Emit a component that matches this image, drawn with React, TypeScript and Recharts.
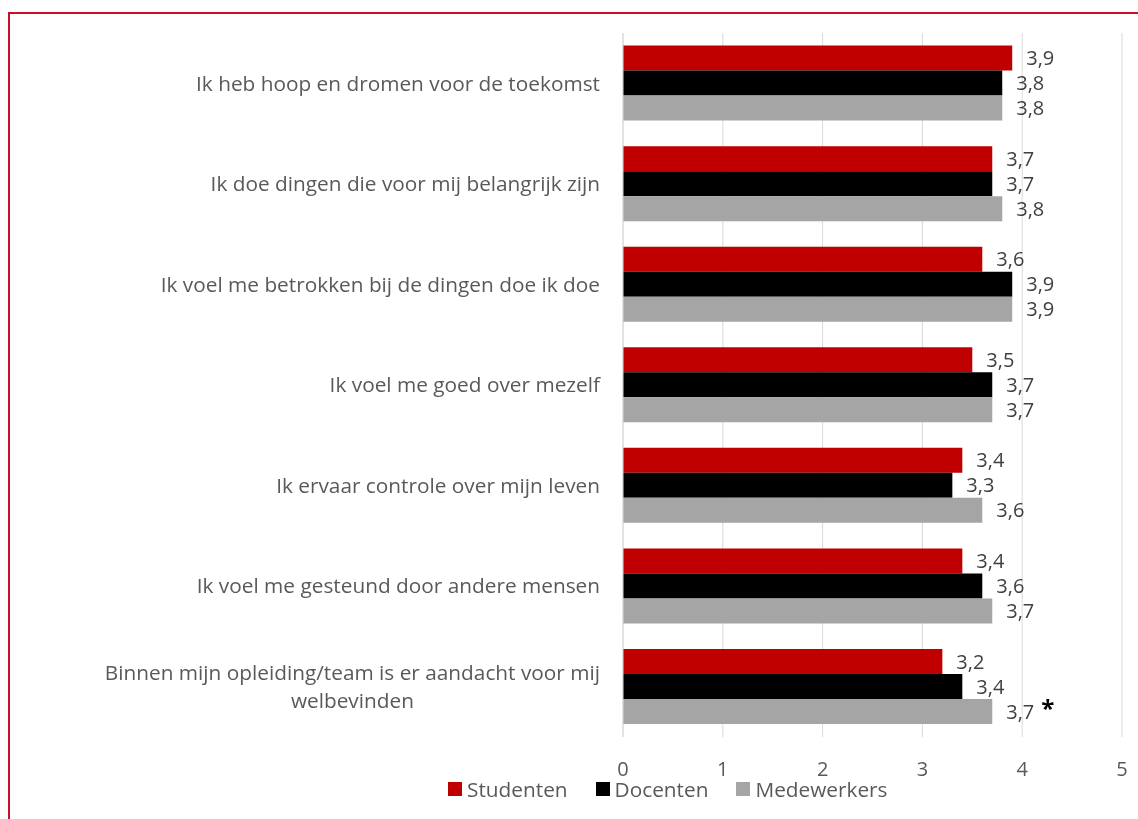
import React from 'react';
import { BarChart, Bar, XAxis, YAxis, CartesianGrid, LabelList, Legend } from 'recharts';

const categories = [
  'Ik heb hoop en dromen voor de toekomst',
  'Ik doe dingen die voor mij belangrijk zijn',
  'Ik voel me betrokken bij de dingen doe ik doe',
  'Ik voel me goed over mezelf',
  'Ik ervaar controle over mijn leven',
  'Ik voel me gesteund door andere mensen',
  'Binnen mijn opleiding/team is er aandacht voor mij\nwelbevinden',
];
const studenten = [3.9, 3.7, 3.6, 3.5, 3.4, 3.4, 3.2];
const docenten = [3.8, 3.7, 3.9, 3.7, 3.3, 3.6, 3.4];
const medewerkers = [3.8, 3.8, 3.9, 3.7, 3.6, 3.7, 3.7];
const medewerkersNotes = ['', '', '', '', '', '', '*'];
const xTicks = [0, 1, 2, 3, 4, 5];
const seriesNames = ['Studenten', 'Docenten', 'Medewerkers'];
const seriesColors = ['#C00000', '#000000', '#A5A5A5'];

const data = categories.map((name, i) => ({
  name,
  s: studenten[i],
  d: docenten[i],
  m: medewerkers[i],
  note: medewerkersNotes[i],
}));

const FONT = '"Open Sans", sans-serif';
const TEXT = '#595959';
const CAT_SIZE = 20.8;
const NUM_SIZE = 20;
const LEGEND_SIZE = 20.8;

let measureCtx: CanvasRenderingContext2D | null = null;
const measure = (t: string, size: number) => {
  if (!measureCtx) measureCtx = document.createElement('canvas').getContext('2d');
  if (!measureCtx) return t.length * size * 0.5;
  measureCtx.font = `${size}px "Open Sans"`;
  return measureCtx.measureText(t).width;
};

const CatTick = (props: any) => {
  const { x, y, payload } = props;
  const lines = String(payload.value).split('\n');
  const lh = 28;
  const widths = lines.map((l) => measure(l, CAT_SIZE));
  const w = Math.max(...widths);
  const cx = x - w / 2;
  const y0 = y - ((lines.length - 1) * lh) / 2;
  return (
    <g>
      {lines.map((l, i) => (
        <text key={i} x={lines.length > 1 ? cx : x} y={y0 + i * lh} dy="0.35em"
          textAnchor={lines.length > 1 ? 'middle' : 'end'} fill={TEXT} fontSize={CAT_SIZE} fontFamily={FONT}>
          {l}
        </text>
      ))}
    </g>
  );
};

const NumTick = (props: any) => {
  const { x, y, payload } = props;
  return (
    <text x={x} y={y + 32} dy="0.35em" textAnchor="middle" fill={TEXT} fontSize={NUM_SIZE} fontFamily={FONT}>
      {payload.value}
    </text>
  );
};

const fmt = (v: number) => v.toFixed(1).replace('.', ',');

const makeLabel = (notes?: string[]) => (props: any) => {
  const { x, y, width, height, value, index } = props;
  const note = notes ? notes[index] : '';
  return (
    <text x={x + width + 14} y={y + height / 2} dy="0.35em" fill="#404040" fontSize={NUM_SIZE} fontFamily={FONT}>
      {fmt(value)}
      {note ? (
        <tspan fill="#000" fontWeight="bold" fontSize={24} dx={7} dy="-0.05em">{note}</tspan>
      ) : null}
    </text>
  );
};

const LegendContent = () => (
  <div style={{ display: 'flex', alignItems: 'center', fontFamily: FONT, fontSize: LEGEND_SIZE, color: TEXT, whiteSpace: 'nowrap', lineHeight: '24px' }}>
    {seriesNames.map((n, i) => (
      <div key={n} style={{ display: 'flex', alignItems: 'center', marginRight: 28 }}>
        <span style={{ display: 'inline-block', width: 14, height: 14, background: seriesColors[i], marginRight: 5 }} />
        <span>{n}</span>
      </div>
    ))}
  </div>
);

export default function App() {
  return (
    <div style={{ position: 'fixed', left: 0, top: 0, width: 1138, height: 819, overflow: 'hidden' }}>
      <div style={{ position: 'absolute', left: 8, top: 12, width: 1150, height: 830, border: '2px solid #C8102E', boxSizing: 'border-box' }} />
      <div style={{ position: 'absolute', left: 8, top: 8 }}>
        <BarChart width={1130} height={803} data={data} layout="vertical"
          margin={{ top: 25, right: 16, bottom: 0, left: 0 }} barCategoryGap="12.5%" barGap={0}>
          <CartesianGrid horizontal={false} stroke="#D9D9D9" />
          <XAxis type="number" domain={[0, 5]} ticks={xTicks} axisLine={false} tickLine={false}
            tickSize={0} tickMargin={0} height={74} tick={<NumTick />} interval={0} />
          <YAxis type="category" dataKey="name" width={615} tickLine={false} tickSize={0} tickMargin={23}
            axisLine={{ stroke: '#D9D9D9' }} tick={<CatTick />} interval={0} />
          <Legend layout="horizontal" verticalAlign="middle" align="center" content={<LegendContent />}
            wrapperStyle={{ top: 769, left: 440, width: 'auto', height: 'auto' }} />
          <Bar dataKey="s" name={seriesNames[0]} fill={seriesColors[0]} isAnimationActive={false}>
            <LabelList dataKey="s" content={makeLabel()} />
          </Bar>
          <Bar dataKey="d" name={seriesNames[1]} fill={seriesColors[1]} isAnimationActive={false}>
            <LabelList dataKey="d" content={makeLabel()} />
          </Bar>
          <Bar dataKey="m" name={seriesNames[2]} fill={seriesColors[2]} isAnimationActive={false}>
            <LabelList dataKey="m" content={makeLabel(medewerkersNotes)} />
          </Bar>
        </BarChart>
      </div>
    </div>
  );
}
